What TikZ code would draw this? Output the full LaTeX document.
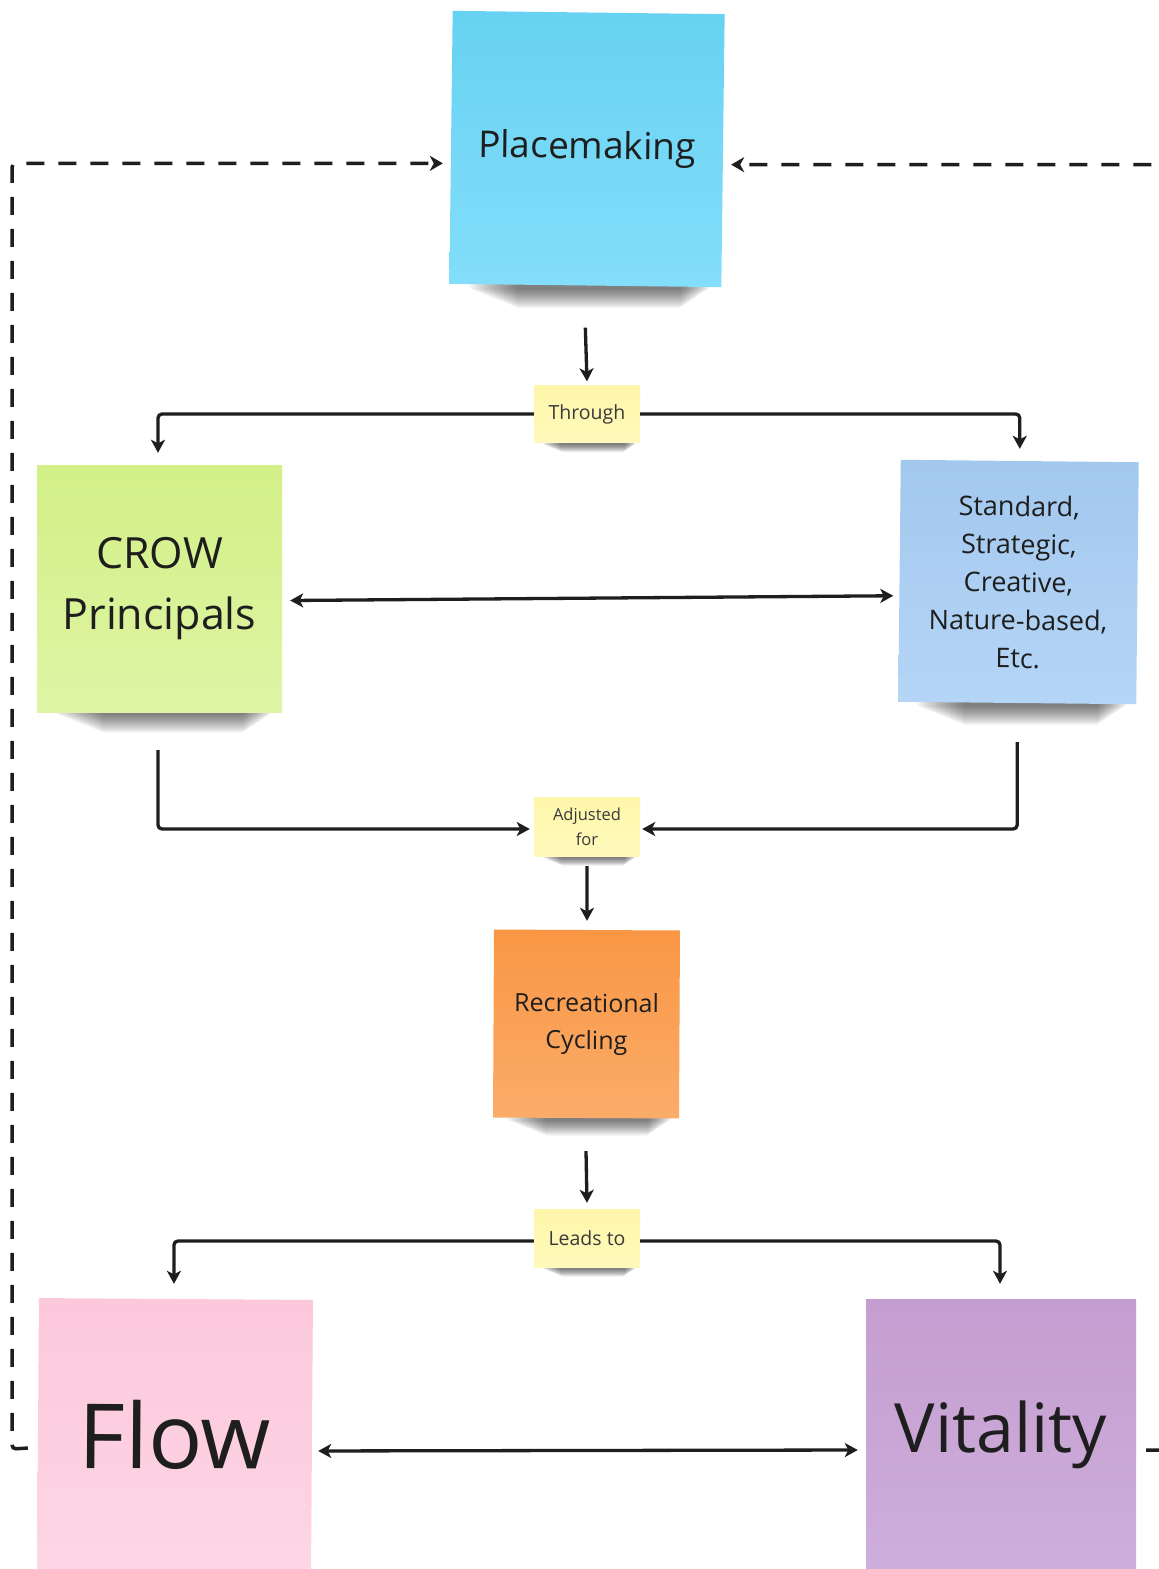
\documentclass[tikz,border=0pt]{standalone}
\usepackage{fontspec}
\setmainfont{Open Sans}
\usetikzlibrary{arrows.meta,calc,backgrounds}

\definecolor{ink}{HTML}{1E1E1E}
\definecolor{labelink}{HTML}{3A3A3A}
\definecolor{blueA}{RGB}{103,210,242}
\definecolor{blueB}{RGB}{131,222,250}
\definecolor{greenA}{RGB}{210,240,135}
\definecolor{greenB}{RGB}{222,245,165}
\definecolor{skyA}{RGB}{163,200,238}
\definecolor{skyB}{RGB}{180,213,246}
\definecolor{orangeA}{RGB}{249,150,68}
\definecolor{orangeB}{RGB}{251,172,105}
\definecolor{pinkA}{RGB}{252,200,220}
\definecolor{pinkB}{RGB}{253,214,229}
\definecolor{violetA}{RGB}{196,158,208}
\definecolor{violetB}{RGB}{206,174,218}
\definecolor{yellowA}{RGB}{254,246,170}
\definecolor{yellowB}{RGB}{255,250,188}

% soft shadow under a note: stacked translucent strips, deepest in the middle
\newcommand\noteshadow[4]{%
  \foreach \k in {0,...,19} {%
    \fill[black, opacity=0.03, rounded corners=3pt]
      ($(#1.south west)+({#2+0.5*#4*\k},-3)$) rectangle
      ($(#1.south east)+({-#3-0.3*#4*\k},{2+0.2*#4*\k})$);
  }%
}

\begin{document}
\begin{tikzpicture}[x=1pt,y=-1pt,
  note/.style={inner sep=0pt, align=center, text=ink},
  tag/.style={note, text=labelink, minimum width=106pt},
  conn/.style={draw=ink, line width=3.3pt, rounded corners=4pt,
    -{Stealth[length=13pt,width=14pt,inset=3.5pt]}},
  twoway/.style={draw=ink, line width=3.3pt,
    {Stealth[length=13pt,width=14pt,inset=3.5pt]}-{Stealth[length=13pt,width=14pt,inset=3.5pt]}},
  loop/.style={draw=ink, line width=3.5pt, dash pattern=on 18pt off 14pt,
    rounded corners=4pt, -{Stealth[length=13pt,width=15pt,inset=4pt]}},
]
\useasboundingbox (0,0) rectangle (1159,1569);

% sticky notes
\node[note, top color=blueA, bottom color=blueB, minimum width=272pt,
  minimum height=273pt, rotate=-0.7, font=\fontsize{37}{44}\selectfont]
  (place) at (587,149) {Placemaking};

\node[tag, top color=yellowA, bottom color=yellowB, minimum height=57pt,
  font=\fontsize{19.5}{24}\selectfont] (through) at (587,414) {Through};

\node[note, top color=greenA, bottom color=greenB, minimum width=245pt,
  minimum height=247pt, font=\fontsize{43}{61}\selectfont]
  (crow) at (159.5,588.5) {CROW\\Principals};

\node[note, top color=skyA, bottom color=skyB, minimum width=238pt,
  minimum height=242pt, rotate=-0.6, font=\fontsize{27}{38}\selectfont]
  (std) at (1018.5,582)
  {Standard,\\Strategic,\\Creative,\\Nature-based,\\Etc.};

\node[tag, top color=yellowA, bottom color=yellowB, minimum height=59pt,
  font=\fontsize{16.5}{25}\selectfont] (adj) at (587,826.5) {Adjusted\\for};

\node[note, top color=orangeA, bottom color=orangeB, minimum width=186pt,
  minimum height=188pt, rotate=-0.3, font=\fontsize{25}{37}\selectfont]
  (rec) at (586.5,1024) {Recreational\\Cycling};

\node[tag, top color=yellowA, bottom color=yellowB, minimum height=58pt,
  font=\fontsize{19.5}{24}\selectfont] (leads) at (587,1238) {Leads to};

\node[note, top color=pinkA, bottom color=pinkB, minimum width=274pt,
  minimum height=272pt, rotate=-0.4, font=\fontsize{90}{100}\selectfont]
  (flow) at (175,1435) {Flow};

\node[note, top color=violetA, bottom color=violetB, minimum width=270pt,
  minimum height=272pt, font=\fontsize{68}{80}\selectfont]
  (vital) at (1001,1435) {Vitality};

% paper backing and the soft shadows under the notes
\begin{pgfonlayer}{background}
  \fill[white] (0,0) rectangle (1159,1569);
  \noteshadow{place}{20}{12}{5}
  \noteshadow{crow}{18}{10}{5}
  \noteshadow{std}{18}{10}{5}
  \noteshadow{rec}{14}{8}{4}
  \noteshadow{through}{8}{4}{2}
  \noteshadow{adj}{8}{4}{2}
  \noteshadow{leads}{8}{4}{2}
\end{pgfonlayer}

% flow of the process
\draw[conn] ($(place.south)+(0,42)$) -- ($(through.north)+(0,-4)$);
\draw[conn] (through.west) -| ($(crow.north)+(-1.5,-12)$);
\draw[conn] (through.east) -| ($(std.north)+(0,-12)$);
\draw[twoway] ($(crow.east)+(8,12)$) -- ($(std.west)+(-6,15)$);
\draw[conn] ($(crow.south)+(-1.5,38)$) |- ($(adj.west)+(-4,2.5)$);
\draw[conn] ($(std.south)+(0,39)$) |- ($(adj.east)+(2,2.5)$);
\draw[conn] ($(adj.south)+(0,10)$) -- ($(rec.north)+(0,-9)$);
\draw[conn] ($(rec.south)+(0,33)$) -- ($(leads.north)+(0,-6)$);
\draw[conn] ($(leads.west)+(0,3)$) -| ($(flow.north)+(-2,-15)$);
\draw[conn] ($(leads.east)+(0,3)$) -| ($(vital.north)+(-1,-15)$);
\draw[twoway] ($(flow.east)+(6,15)$) -- ($(vital.west)+(-8,15)$);

% feedback loops back to placemaking
\draw[loop] ($(flow.west)+(-10,14)$) -- (12,1449) |- ($(place.west)+(-8,16)$);
\draw[loop] ($(vital.east)+(10,15)$) -- (1180,1450) |- ($(place.east)+(8,14)$);
\end{tikzpicture}
\end{document}
